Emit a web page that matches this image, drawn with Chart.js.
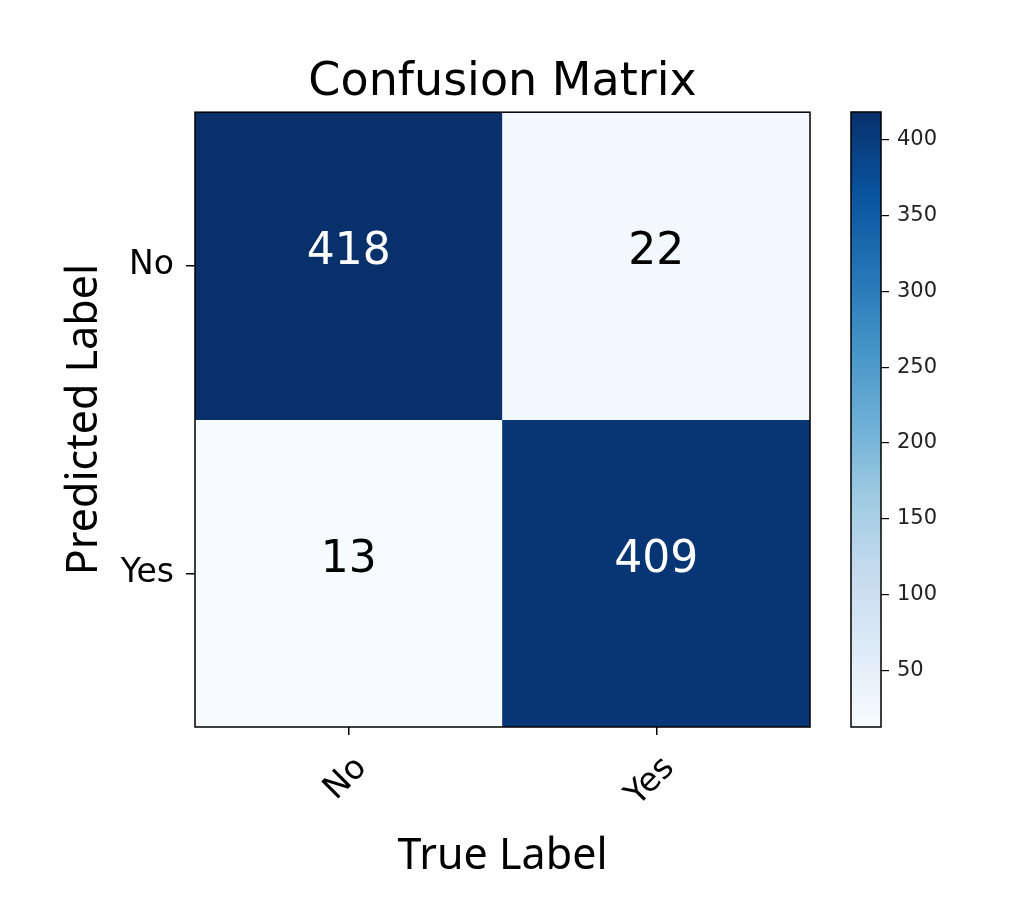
<!DOCTYPE html>
<html>
<head>
<meta charset="utf-8">
<script src="https://cdn.jsdelivr.net/npm/chart.js@4/dist/chart.umd.min.js"></script>
<style>
  html, body { margin: 0; padding: 0; background: #ffffff; }
  #wrap { position: relative; width: 1019px; height: 904px; overflow: hidden; }
  #main { position: absolute; left: 0; top: 0; }
  #cbar { position: absolute; left: 840px; top: 0; }
</style>
</head>
<body>
<div id="wrap">
  <canvas id="main" width="1019" height="904"></canvas>
  <canvas id="cbar" width="179" height="904"></canvas>
</div>
<script>
// ---- data ----
const trueLabels = ['No', 'Yes'];          // x axis categories (True Label)
const predictedLabels = ['No', 'Yes'];     // y axis rows (Predicted Label)
const rowNo = [418, 22];                   // predicted "No": true No, true Yes
const rowYes = [13, 409];                  // predicted "Yes": true No, true Yes
const colorbarTicks = [50, 100, 150, 200, 250, 300, 350, 400];

const allValues = rowNo.concat(rowYes);
const vmin = Math.min(...allValues);
const vmax = Math.max(...allValues);

// matplotlib "Blues" colormap stops
const bluesStops = [
  [0.000, [247, 251, 255]],
  [0.125, [222, 235, 247]],
  [0.250, [198, 219, 239]],
  [0.375, [158, 202, 225]],
  [0.500, [107, 174, 214]],
  [0.625, [66, 146, 198]],
  [0.750, [33, 113, 181]],
  [0.875, [8, 81, 156]],
  [1.000, [8, 48, 107]]
];
function blues(t) {
  t = Math.max(0, Math.min(1, t));
  for (let i = 1; i < bluesStops.length; i++) {
    const [t1, c1] = bluesStops[i];
    const [t0, c0] = bluesStops[i - 1];
    if (t <= t1) {
      const f = (t - t0) / (t1 - t0);
      const c = c0.map((v, k) => Math.round(v + (c1[k] - v) * f));
      return `rgb(${c[0]},${c[1]},${c[2]})`;
    }
  }
  const c = bluesStops[bluesStops.length - 1][1];
  return `rgb(${c[0]},${c[1]},${c[2]})`;
}
const colorFor = v => blues((v - vmin) / (vmax - vmin));

const tickFont = { family: 'DejaVu Sans', size: 33 };

const framePlugin = {
  id: 'frame',
  afterDraw(chart) {
    const { ctx, chartArea: a } = chart;
    ctx.save();
    ctx.strokeStyle = '#000';
    ctx.lineWidth = 1.5;
    ctx.strokeRect(a.left, a.top, a.right - a.left, a.bottom - a.top);
    ctx.restore();
  }
};

const cellTextPlugin = {
  id: 'cellText',
  afterDatasetsDraw(chart) {
    const { ctx } = chart;
    const thresh = (vmax + vmin) / 2;
    ctx.save();
    ctx.font = '44px "DejaVu Sans"';
    ctx.textAlign = 'center';
    ctx.textBaseline = 'middle';
    chart.data.datasets.forEach((ds, d) => {
      const meta = chart.getDatasetMeta(d);
      meta.data.forEach((bar, i) => {
        const v = ds.values[i];
        const cy = (bar.y + bar.base) / 2;
        ctx.fillStyle = v > thresh ? '#ffffff' : '#000000';
        ctx.fillText(String(v), bar.x, cy - 13);
      });
    });
    ctx.restore();
  }
};

new Chart(document.getElementById('main'), {
  type: 'bar',
  data: {
    labels: trueLabels,
    datasets: [
      {
        label: predictedLabels[0],
        values: rowNo,
        data: rowNo.map(() => [0, 1]),
        backgroundColor: rowNo.map(colorFor),
        borderWidth: 0,
        barPercentage: 1,
        categoryPercentage: 1,
        grouped: false
      },
      {
        label: predictedLabels[1],
        values: rowYes,
        data: rowYes.map(() => [1, 2]),
        backgroundColor: rowYes.map(colorFor),
        borderWidth: 0,
        barPercentage: 1,
        categoryPercentage: 1,
        grouped: false
      }
    ]
  },
  options: {
    responsive: false,
    animation: false,
    devicePixelRatio: 1,
    layout: { padding: { left: 0, right: 209, top: 0, bottom: 0 } },
    plugins: {
      legend: { display: false },
      tooltip: { enabled: false },
      title: {
        display: true,
        text: 'Confusion Matrix',
        fullSize: false,
        color: '#000',
        font: { family: 'DejaVu Sans', size: 46, weight: 'normal', lineHeight: 1.2 },
        padding: { top: 55, bottom: 2 }
      }
    },
    scales: {
      x: {
        type: 'category',
        offset: true,
        border: { display: false },
        grid: { drawOnChartArea: false, drawTicks: true, tickLength: 8, color: '#000', lineWidth: 1.5, offset: false },
        ticks: { font: tickFont, color: '#000', minRotation: 45, maxRotation: 45, padding: 14, labelOffset: 13 },
        title: { display: true, text: 'True Label', color: '#000', font: { family: 'Noto Sans', size: 43, lineHeight: 1.2 }, padding: { top: 0, bottom: 21 } },
        afterFit(scale) { scale.height = 177; }
      },
      y: {
        type: 'linear',
        min: 0,
        max: 2,
        reverse: true,
        border: { display: false },
        grid: { drawOnChartArea: false, drawTicks: true, tickLength: 9, color: '#000', lineWidth: 1.5 },
        afterBuildTicks(scale) { scale.ticks = [{ value: 0.5 }, { value: 1.5 }]; },
        ticks: {
          font: tickFont,
          color: '#000',
          padding: 12,
          callback: (value, index) => predictedLabels[index]
        },
        title: { display: true, text: 'Predicted Label', color: '#000', font: { family: 'Noto Sans', size: 43, lineHeight: 1.2 }, padding: { top: 59, bottom: 0 } },
        afterFit(scale) { scale.width = 195; }
      }
    }
  },
  plugins: [cellTextPlugin, framePlugin]
});

// ---- colorbar ----
new Chart(document.getElementById('cbar'), {
  type: 'bar',
  data: {
    labels: [''],
    datasets: [{
      data: [[vmin, vmax]],
      borderWidth: 0,
      barPercentage: 1,
      categoryPercentage: 1,
      backgroundColor(context) {
        const chart = context.chart;
        const a = chart.chartArea;
        if (!a) return blues(0.5);
        const g = chart.ctx.createLinearGradient(0, a.bottom, 0, a.top);
        bluesStops.forEach(([t, c]) => g.addColorStop(t, `rgb(${c[0]},${c[1]},${c[2]})`));
        return g;
      }
    }]
  },
  options: {
    responsive: false,
    animation: false,
    devicePixelRatio: 1,
    layout: { padding: { left: 11, right: 0, top: 112, bottom: 177 } },
    plugins: { legend: { display: false }, tooltip: { enabled: false }, title: { display: false } },
    scales: {
      x: { type: 'category', display: false, offset: true },
      y: {
        type: 'linear',
        position: 'right',
        min: vmin,
        max: vmax,
        border: { display: false },
        grid: { drawOnChartArea: false, drawTicks: true, tickLength: 8, color: '#000', lineWidth: 1.2 },
        afterBuildTicks(scale) { scale.ticks = colorbarTicks.map(v => ({ value: v })); },
        ticks: { font: { family: 'DejaVu Sans', size: 21 }, color: '#222', padding: 8 },
        afterFit(scale) { scale.width = 138; }
      }
    }
  },
  plugins: [framePlugin]
});
</script>
</body>
</html>
